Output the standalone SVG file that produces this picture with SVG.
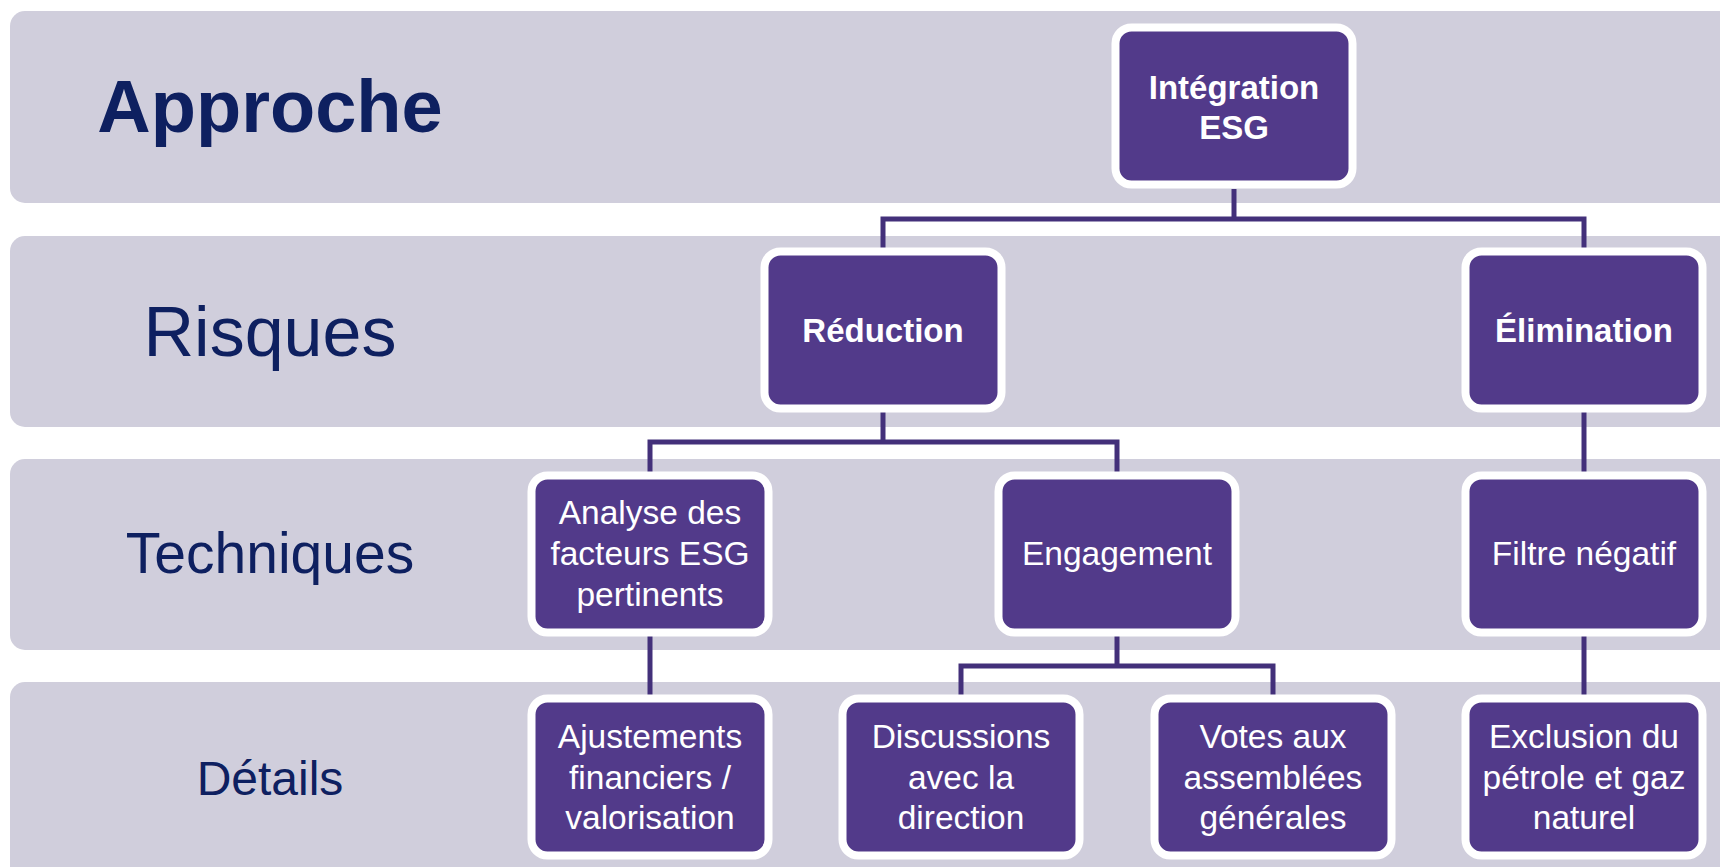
<svg xmlns="http://www.w3.org/2000/svg" width="1720" height="867" viewBox="0 0 1720 867">
<style>
.band{fill:#D0CEDC}
.lbl{font-family:"Liberation Sans",Arial,sans-serif;fill:#0E2060;text-anchor:middle}
.node rect{fill:#523A8A;stroke:#FFFFFF;stroke-width:8}
.node text{font-family:"Liberation Sans",Arial,sans-serif;fill:#FFFFFF;font-size:33.5px;text-anchor:middle}
.node text.b{font-weight:bold;font-size:33px}
.conn path{fill:none;stroke:#43307A;stroke-width:5;stroke-linejoin:miter}
</style>
<rect width="1720" height="867" fill="#FFFFFF"/>
<g id="bands">
<rect class="band" x="10" y="11" width="1740" height="192" rx="15"/>
<rect class="band" x="10" y="236" width="1740" height="191" rx="15"/>
<rect class="band" x="10" y="459" width="1740" height="191" rx="15"/>
<rect class="band" x="10" y="682" width="1740" height="200" rx="15"/>
</g>
<g id="row-labels">
<text class="lbl" x="270" y="132" font-size="74" font-weight="bold">Approche</text>
<text class="lbl" x="270" y="356" font-size="70">Risques</text>
<text class="lbl" x="270" y="573" font-size="57">Techniques</text>
<text class="lbl" x="270" y="795" font-size="48">Détails</text>
</g>
<g id="connectors" class="conn">
<path d="M1234 189 V219"/>
<path d="M883 248 V219 H1584 V248"/>
<path d="M883 412 V442"/>
<path d="M650 472 V442 H1117 V472"/>
<path d="M1584 412 V472"/>
<path d="M650 636 V695"/>
<path d="M1117 636 V666"/>
<path d="M961 695 V666 H1273 V695"/>
<path d="M1584 636 V695"/>
</g>
<g id="n-integration" class="node">
<rect x="1115.5" y="27.5" width="237" height="157" rx="16"/>
<text class="b" x="1234" y="99">Intégration</text>
<text class="b" x="1234" y="139">ESG</text>
</g>
<g id="n-reduction" class="node">
<rect x="764.5" y="251.5" width="237" height="157" rx="16"/>
<text class="b" x="883" y="342">Réduction</text>
</g>
<g id="n-elimination" class="node">
<rect x="1465.5" y="251.5" width="237" height="157" rx="16"/>
<text class="b" x="1584" y="342">Élimination</text>
</g>
<g id="n-analyse" class="node">
<rect x="531.5" y="475.5" width="237" height="157" rx="16"/>
<text x="650" y="524">Analyse des</text>
<text x="650" y="565">facteurs ESG</text>
<text x="650" y="606">pertinents</text>
</g>
<g id="n-engagement" class="node">
<rect x="998.5" y="475.5" width="237" height="157" rx="16"/>
<text x="1117" y="565">Engagement</text>
</g>
<g id="n-filtre" class="node">
<rect x="1465.5" y="475.5" width="237" height="157" rx="16"/>
<text x="1584" y="565">Filtre négatif</text>
</g>
<g id="n-ajustements" class="node">
<rect x="531.5" y="698.5" width="237" height="157" rx="16"/>
<text x="650" y="748">Ajustements</text>
<text x="650" y="789">financiers /</text>
<text x="650" y="829">valorisation</text>
</g>
<g id="n-discussions" class="node">
<rect x="842.5" y="698.5" width="237" height="157" rx="16"/>
<text x="961" y="748">Discussions</text>
<text x="961" y="789">avec la</text>
<text x="961" y="829">direction</text>
</g>
<g id="n-votes" class="node">
<rect x="1154.5" y="698.5" width="237" height="157" rx="16"/>
<text x="1273" y="748">Votes aux</text>
<text x="1273" y="789">assemblées</text>
<text x="1273" y="829">générales</text>
</g>
<g id="n-exclusion" class="node">
<rect x="1465.5" y="698.5" width="237" height="157" rx="16"/>
<text x="1584" y="748">Exclusion du</text>
<text x="1584" y="789">pétrole et gaz</text>
<text x="1584" y="829">naturel</text>
</g>
</svg>
